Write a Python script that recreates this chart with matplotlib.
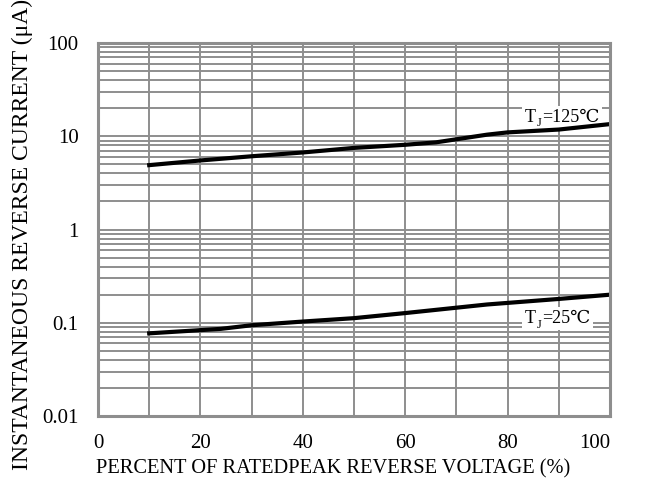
import matplotlib
matplotlib.use("Agg")
import matplotlib.pyplot as plt
from matplotlib.ticker import LogLocator, FixedLocator, NullFormatter

plt.rcParams['font.family'] = ['Liberation Serif', 'DejaVu Serif', 'DejaVu Sans']

x_125 = [10, 20, 30, 40, 50, 60, 66, 76, 80, 90, 100]
y_125 = [4.9, 5.5, 6.1, 6.7, 7.5, 8.1, 8.6, 10.4, 11.0, 11.8, 13.5]
x_25 = [10, 24, 30, 40, 50, 60, 70, 76, 90, 100]
y_25 = [0.077, 0.086, 0.094, 0.103, 0.112, 0.127, 0.145, 0.157, 0.18, 0.2]
x_ticks = [0, 20, 40, 60, 80, 100]
y_ticks = [0.01, 0.1, 1, 10, 100]
y_ticklabels = ['0.01', '0.1', '1', '10', '100']
labels = ['=125℃', '=25℃']

fig = plt.figure(figsize=(6.52, 4.79), dpi=100)
ax = fig.add_axes([98/652, 1-416/479, 512/652, 373/479])
ax.set_yscale('log')
ax.set_xlim(0, 100)
ax.set_ylim(0.01, 100)

gc = '#8e8e8e'
ax.xaxis.set_minor_locator(FixedLocator(list(range(10, 100, 10))))
ax.yaxis.set_minor_locator(LogLocator(base=10, subs=range(2, 10)))
ax.yaxis.set_minor_formatter(NullFormatter())
ax.grid(True, which='both', color=gc, linewidth=1.4)
ax.set_axisbelow(True)
ax.set_xticks(x_ticks)
ax.set_yticks(y_ticks)
ax.set_yticklabels(y_ticklabels)
ax.tick_params(which='both', length=0, labelsize=15)
ax.tick_params(axis='y', pad=14)
ax.tick_params(axis='x', pad=13)
ax.get_xticklabels()[-1].set_ha('right')
for s in ax.spines.values():
    s.set_color(gc)
    s.set_linewidth(2.2)
    s.set_zorder(4)

ax.plot(x_125, y_125, color='black', linewidth=3, zorder=3)
ax.plot(x_25, y_25, color='black', linewidth=3, zorder=3)


def tj_label(x, y, rest):
    bb = dict(facecolor='white', edgecolor='none', pad=2)
    t1 = ax.text(x, y, 'T', fontsize=13, ha='left', va='baseline', bbox=bb, zorder=1.5)
    t2 = ax.annotate('J', xy=(1, 0), xycoords=t1, xytext=(0.4, -2.5),
                     textcoords='offset points', fontsize=9, ha='left', va='bottom',
                     zorder=1.7)
    t3 = ax.annotate(rest, xy=(1, 0), xycoords=t2, xytext=(0.4, 2.5),
                     textcoords='offset points', fontsize=13, ha='left', va='bottom',
                     bbox=bb, zorder=1.6)
    return t3


tj_label(83.4, 14.3, labels[0])
tj_label(83.4, 0.099, labels[1])

ax.set_xlabel('PERCENT OF RATEDPEAK REVERSE VOLTAGE (%)', fontsize=14.7)
ax.xaxis.set_label_coords(235/512, -0.115)
ax.set_ylabel('INSTANTANEOUS REVERSE CURRENT (μA)', fontsize=17)
ax.yaxis.set_label_coords(-0.127, 0.486)

fig.savefig('out.png', dpi=100)
